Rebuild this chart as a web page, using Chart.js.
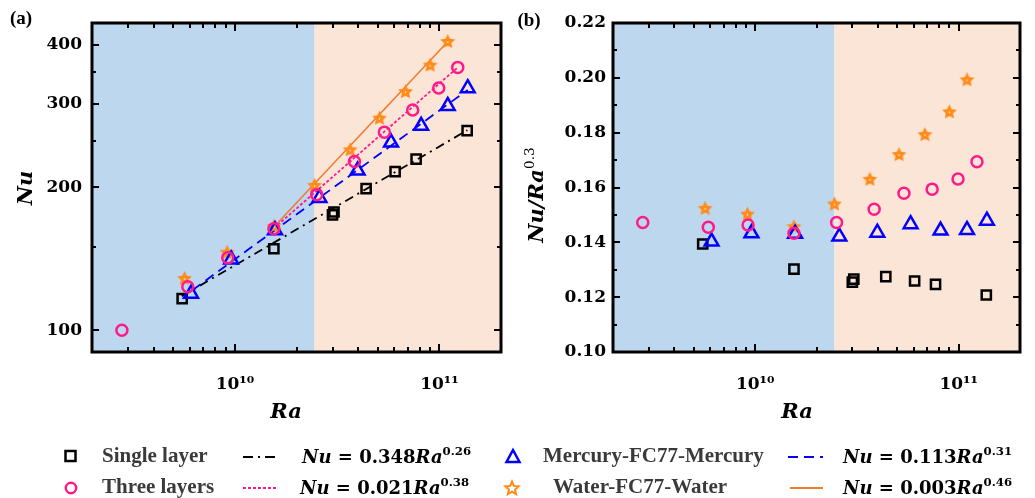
<!DOCTYPE html>
<html>
<head>
<meta charset="utf-8">
<script src="https://cdn.jsdelivr.net/npm/chart.js@4.4.1/dist/chart.umd.min.js"></script>
<style>
  body { margin: 0; background: #fff; }
  #wrap { position: relative; width: 1035px; height: 498px; overflow: hidden; }
  canvas { position: absolute; top: 0; }
  .t { position: absolute; line-height: 1; white-space: nowrap; }
  .c { transform: translate(-50%, -50%); }
  .r { transform: translate(-50%, -50%) rotate(-90deg); }
  .l { transform: translateY(-50%); }
  .tag { font: bold 19px "Liberation Serif"; color: #000; }
  .axt { font: italic bold 21px "DejaVu Serif"; color: #000; }
  .lab { font: bold 21px "Liberation Serif"; color: #3a3a3a; }
  .eq { font: bold 18px "DejaVu Serif"; color: #000; }
  .eq i { font-style: italic; }
  sup { font-size: 0.65em; vertical-align: 0.62em; line-height: 0; }
  .axt sup { font-weight: normal; font-style: normal; }
  svg { position: absolute; overflow: visible; }
</style>
</head>
<body>
<div id="wrap">
  <canvas id="chartA" width="515" height="430" style="left:0;width:515px;height:430px"></canvas>
  <canvas id="chartB" width="520" height="430" style="left:515px;width:520px;height:430px"></canvas>

  <div class="t c tag" style="left:21px;top:18px">(a)</div>
  <div class="t c tag" style="left:529px;top:20px">(b)</div>

  <div class="t r axt" style="left:24px;top:188px"><i>Nu</i></div>
  <div class="t c axt" style="left:286px;top:410px">Ra</div>
  <div class="t r axt" style="left:535px;top:195px">Nu/Ra<sup>0.3</sup></div>
  <div class="t c axt" style="left:797px;top:410px">Ra</div>

  <!-- legend -->
  <svg style="left:0;top:0" width="1035" height="498">
    <rect x="65.5" y="451" width="10" height="10" fill="none" stroke="#000" stroke-width="2.5"/>
    <circle cx="71" cy="488" r="5.2" fill="none" stroke="#ff1a8c" stroke-width="2.5"/>
    <line x1="243" y1="457" x2="277" y2="457" stroke="#000" stroke-width="2" stroke-dasharray="10,5,2,5"/>
    <line x1="243" y1="488" x2="277" y2="488" stroke="#ff1a8c" stroke-width="2" stroke-dasharray="3,2"/>
    <polygon points="513,450 519.5,462 506.5,462" fill="none" stroke="#0000ff" stroke-width="2.5" stroke-linejoin="miter"/>
    <polygon id="legStar" fill="none" stroke="#ff8c1a" stroke-width="2"/>
    <line x1="788" y1="457" x2="823" y2="457" stroke="#0000ff" stroke-width="2" stroke-dasharray="10,6"/>
    <line x1="790" y1="488" x2="823" y2="488" stroke="#ed7d31" stroke-width="2"/>
  </svg>
  <div class="t l lab" style="left:102px;top:455px">Single layer</div>
  <div class="t l lab" style="left:102px;top:486px">Three layers</div>
  <div class="t l eq" style="left:302px;top:456px"><i>Nu</i> = 0.348<i>Ra</i><sup>0.26</sup></div>
  <div class="t l eq" style="left:300px;top:487px"><i>Nu</i> = 0.021<i>Ra</i><sup>0.38</sup></div>
  <div class="t l lab" style="left:543px;top:455px">Mercury-FC77-Mercury</div>
  <div class="t l lab" style="left:553px;top:486px">Water-FC77-Water</div>
  <div class="t l eq" style="left:843px;top:456px"><i>Nu</i> = 0.113<i>Ra</i><sup>0.31</sup></div>
  <div class="t l eq" style="left:843px;top:487px"><i>Nu</i> = 0.003<i>Ra</i><sup>0.46</sup></div>
</div>

<script>
// ---- axes ----
const xMin = 2e9, xMax = 2e11;
const regimeSplit = 2.45e10;
const xMajorTicks = [1e10, 1e11];
const xTickLabels = ['10¹⁰', '10¹¹'];
const xMinorTicks = [3e9, 4e9, 5e9, 6e9, 7e9, 8e9, 9e9, 2e10, 3e10, 4e10, 5e10, 6e10, 7e10, 8e10, 9e10];

const nuMin = 90, nuMax = 444;
const nuTicks = [100, 200, 300, 400];
const nuTickLabels = ['100', '200', '300', '400'];
const nuMinorTicks = [150, 250, 350];

const ratioMin = 0.10, ratioMax = 0.22;
const ratioTicks = [0.10, 0.12, 0.14, 0.16, 0.18, 0.20, 0.22];
const ratioTickLabels = ['0.10', '0.12', '0.14', '0.16', '0.18', '0.20', '0.22'];
const ratioMinorTicks = [0.11, 0.13, 0.15, 0.17, 0.19, 0.21];

// ---- data ----
const singleRa = [5.52e9, 1.55e10, 3.0e10, 3.05e10, 4.38e10, 6.07e10, 7.69e10, 1.366e11];
const singleNu = [116.6, 148.5, 175, 177.5, 198.8, 216, 229.5, 263.5];
const singleRatio = [0.1394, 0.1302, 0.1255, 0.1266, 0.1275, 0.1259, 0.1247, 0.1208];

const threeRa = [2.8e9, 5.88e9, 9.22e9, 1.55e10, 2.51e10, 3.84e10, 5.38e10, 7.4e10, 9.92e10, 1.229e11];
const threeNu = [100, 123.5, 142.1, 163.6, 193.1, 226.8, 261.5, 291, 324, 358];
const threeRatio = [0.1472, 0.1455, 0.1463, 0.1433, 0.1472, 0.1521, 0.1579, 0.1594, 0.1631, 0.1694];

const mercRa = [6.1e9, 9.58e9, 1.57e10, 2.59e10, 3.98e10, 5.8e10, 8.14e10, 1.098e11, 1.375e11];
const mercNu = [119.4, 141, 162.5, 190, 217, 248.6, 269.6, 297, 323.6];
const mercRatio = [0.1403, 0.1433, 0.1431, 0.1421, 0.1435, 0.1466, 0.1443, 0.1445, 0.1479];

const waterRa = [5.67e9, 9.16e9, 1.55e10, 2.45e10, 3.66e10, 5.09e10, 6.82e10, 9.0e10, 1.098e11];
const waterNu = [128.6, 146, 165.6, 202, 240, 279.8, 318.3, 362, 406];
const waterRatio = [0.1524, 0.1503, 0.1457, 0.154, 0.163, 0.172, 0.1793, 0.1876, 0.1993];

// fit lines (end points)
const fitSingleRa = [5.5e9, 1.37e11], fitSingleNu = [118, 264];
const fitThreeRa = [1.55e10, 1.23e11], fitThreeNu = [164, 358];
const fitMercRa = [6.2e9, 1.375e11], fitMercNu = [121.5, 321];
const fitWaterRa = [1.55e10, 1.1e11], fitWaterNu = [165, 406];

const pts = (xs, ys) => xs.map((x, i) => ({ x, y: ys[i] }));

// star marker
function starPath(g, cx, cy, ro, ri) {
  g.beginPath();
  for (let i = 0; i < 10; i++) {
    const r = i % 2 ? ri : ro;
    const a = -Math.PI / 2 + i * Math.PI / 5;
    g.lineTo(cx + r * Math.cos(a), cy + r * Math.sin(a));
  }
  g.closePath();
}
function makeStar() {
  const c = document.createElement('canvas');
  c.width = 17; c.height = 17;
  const g = c.getContext('2d');
  starPath(g, 8.5, 8.8, 7.8, 3.9);
  g.fillStyle = '#ff8c1a';
  g.fill();
  g.beginPath();
  g.arc(8.5, 9.1, 0.9, 0, Math.PI * 2);
  g.fillStyle = '#ffe6c8';
  g.fill();
  return c;
}
const starImg = makeStar();

// legend star outline
(() => {
  const p = [];
  for (let i = 0; i < 10; i++) {
    const r = i % 2 ? 3.2 : 7;
    const a = -Math.PI / 2 + i * Math.PI / 5;
    p.push((512 + r * Math.cos(a)).toFixed(2) + ',' + (488.5 + r * Math.sin(a)).toFixed(2));
  }
  document.getElementById('legStar').setAttribute('points', p.join(' '));
})();

// background regions + inward ticks + frame
const framePlugin = {
  id: 'frame',
  beforeDatasetsDraw(chart, args, o) {
    const { ctx, chartArea: a, scales: { x } } = chart;
    const s = x.getPixelForValue(o.split);
    ctx.save();
    ctx.fillStyle = '#bdd7ee';
    ctx.fillRect(a.left, a.top, s - a.left, a.bottom - a.top);
    ctx.fillStyle = '#fbe5d6';
    ctx.fillRect(s, a.top, a.right - s, a.bottom - a.top);
    ctx.restore();
  },
  afterDatasetsDraw(chart, args, o) {
    const { ctx, chartArea: a, scales: { x, y } } = chart;
    ctx.save();
    ctx.strokeStyle = '#000';
    ctx.lineWidth = 2;
    ctx.beginPath();
    const vt = (vals, len) => vals.forEach(v => {
      const p = Math.round(x.getPixelForValue(v));
      ctx.moveTo(p, a.bottom); ctx.lineTo(p, a.bottom - len);
      ctx.moveTo(p, a.top); ctx.lineTo(p, a.top + len);
    });
    const ht = (vals, len) => vals.forEach(v => {
      const p = Math.round(y.getPixelForValue(v));
      ctx.moveTo(a.left, p); ctx.lineTo(a.left + len, p);
      ctx.moveTo(a.right, p); ctx.lineTo(a.right - len, p);
    });
    vt(o.xMajor, 8); vt(o.xMinor, 5);
    ht(o.yMajor, 7); ht(o.yMinor, 4);
    ctx.stroke();
    ctx.lineWidth = 3;
    ctx.strokeRect(a.left, a.top, a.right - a.left, a.bottom - a.top);
    ctx.restore();
  }
};

const tickFont = { family: 'DejaVu Serif', weight: 'bold', size: 17 };

function xScale() {
  return {
    type: 'logarithmic', min: xMin, max: xMax,
    grid: { display: false, drawTicks: false }, border: { display: false },
    afterBuildTicks: s => { s.ticks = xMajorTicks.map(v => ({ value: v })); },
    afterFit: s => { s.height = 78; },
    ticks: {
      callback: v => xTickLabels[xMajorTicks.indexOf(v)],
      font: tickFont, color: '#000', padding: 22, maxRotation: 0, autoSkip: false
    }
  };
}

function markerSets(yS, yT, yM, yW) {
  return [
    { label: 'Three layers', data: pts(threeRa, yT), pointStyle: 'circle', pointRadius: 5.5,
      borderColor: '#ff1a8c', backgroundColor: 'rgba(0,0,0,0)', pointBorderWidth: 2.5 },
    { label: 'Mercury-FC77-Mercury', data: pts(mercRa, yM), pointStyle: 'triangle', pointRadius: 8,
      borderColor: '#0000ff', backgroundColor: 'rgba(0,0,0,0)', pointBorderWidth: 2.5 },
    { label: 'Water-FC77-Water', data: pts(waterRa, yW), pointStyle: starImg, pointRadius: 8,
      borderColor: '#ff8c1a', backgroundColor: '#ff8c1a' },
    { label: 'Single layer', data: pts(singleRa, yS), pointStyle: 'rect', pointRadius: 6.5,
      borderColor: '#000', backgroundColor: 'rgba(0,0,0,0)', pointBorderWidth: 2.5 }
  ];
}

const fitLine = (xs, ys, color, dash, width) => ({
  data: pts(xs, ys), showLine: true, pointRadius: 0, borderColor: color,
  borderWidth: width, borderDash: dash, fill: false
});

new Chart(document.getElementById('chartA'), {
  type: 'scatter',
  data: {
    datasets: [
      ...markerSets(singleNu, threeNu, mercNu, waterNu),
      fitLine(fitThreeRa, fitThreeNu, '#ff1a8c', [3, 2], 1.8),
      fitLine(fitWaterRa, fitWaterNu, '#ed7d31', [], 1.6),
      fitLine(fitMercRa, fitMercNu, '#0000ff', [10, 6], 1.8),
      fitLine(fitSingleRa, fitSingleNu, '#000', [9, 5, 2, 5], 1.8)
    ]
  },
  options: {
    responsive: false, animation: false, events: [],
    layout: { padding: { left: 0, top: 23, right: 14, bottom: 0 } },
    plugins: {
      legend: { display: false }, tooltip: { enabled: false },
      frame: { split: regimeSplit, xMajor: xMajorTicks, xMinor: xMinorTicks, yMajor: nuTicks, yMinor: nuMinorTicks }
    },
    scales: {
      x: xScale(),
      y: {
        type: 'logarithmic', min: nuMin, max: nuMax,
        grid: { display: false, drawTicks: false }, border: { display: false },
        afterBuildTicks: s => { s.ticks = nuTicks.map(v => ({ value: v })); },
        afterFit: s => { s.width = 92; },
        ticks: {
          callback: v => nuTickLabels[nuTicks.indexOf(v)],
          font: tickFont, color: '#000', padding: 10, autoSkip: false
        }
      }
    }
  },
  plugins: [framePlugin]
});

new Chart(document.getElementById('chartB'), {
  type: 'scatter',
  data: { datasets: markerSets(singleRatio, threeRatio, mercRatio, waterRatio) },
  options: {
    responsive: false, animation: false, events: [],
    layout: { padding: { left: 0, top: 23, right: 15, bottom: 0 } },
    plugins: {
      legend: { display: false }, tooltip: { enabled: false },
      frame: { split: regimeSplit, xMajor: xMajorTicks, xMinor: xMinorTicks, yMajor: ratioTicks, yMinor: ratioMinorTicks }
    },
    scales: {
      x: xScale(),
      y: {
        type: 'linear', min: ratioMin, max: ratioMax,
        grid: { display: false, drawTicks: false }, border: { display: false },
        afterBuildTicks: s => { s.ticks = ratioTicks.map(v => ({ value: v })); },
        afterFit: s => { s.width = 98; },
        ticks: {
          callback: (v, i) => ratioTickLabels[i],
          font: tickFont, color: '#000', padding: 7, autoSkip: false
        }
      }
    }
  },
  plugins: [framePlugin]
});
</script>
</body>
</html>
